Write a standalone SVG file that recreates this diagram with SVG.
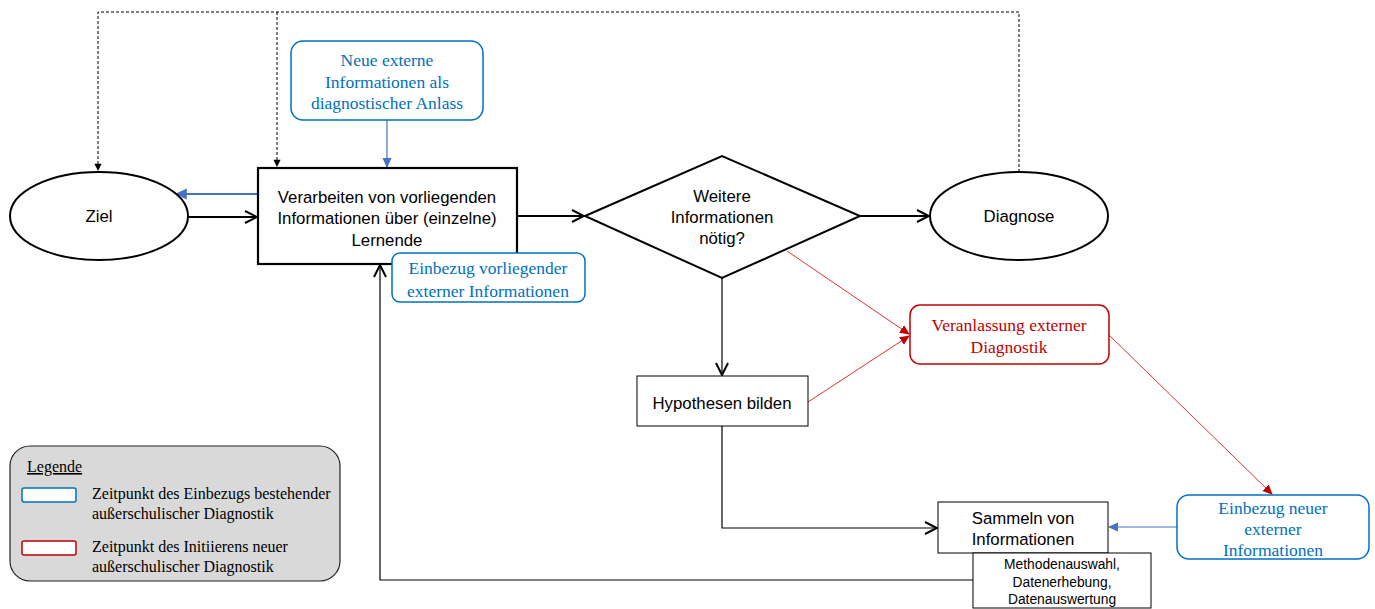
<svg xmlns="http://www.w3.org/2000/svg" width="1375" height="609" viewBox="0 0 1375 609">
<style>
.sans{font-family:"Liberation Sans",Arial,sans-serif;font-size:16.8px;fill:#000;text-anchor:middle}
.small{font-family:"Liberation Sans",Arial,sans-serif;font-size:13.8px;fill:#000;text-anchor:middle}
.serif{font-family:"Liberation Serif","Times New Roman",serif;font-size:17.5px;text-anchor:middle}
.leg{font-family:"Liberation Serif","Times New Roman",serif;font-size:16px;text-anchor:start;fill:#000}
.blue{fill:#0070C0}
.red{fill:#C00000}
.node{fill:#fff;stroke:#000}
.bbox{fill:#fff;stroke:#0070C0;stroke-width:1.5}
.rbox{fill:#fff;stroke:#C00000;stroke-width:1.5}
.blk{fill:none;stroke:#000;stroke-width:2}
.thin{fill:none;stroke:#000;stroke-width:1.2}
.dash{fill:none;stroke:#000;stroke-width:1;stroke-dasharray:3,2}
.bl{fill:none;stroke:#4472C4;stroke-width:1.2}
.rl{fill:none;stroke:#E03030;stroke-width:1}
</style>
<defs>
<marker id="openL" viewBox="0 0 14 14" refX="13" refY="7" markerWidth="14" markerHeight="14" markerUnits="userSpaceOnUse" orient="auto"><path d="M1,1 L13,7 L1,13" fill="none" stroke="#000" stroke-width="2"/></marker>
<marker id="dashA" viewBox="0 0 10 10" refX="9" refY="5" markerWidth="9" markerHeight="9" markerUnits="userSpaceOnUse" orient="auto"><path d="M1,1 L9,5 L1,9 Z" fill="#000"/></marker>
<marker id="blueA" viewBox="0 0 10 10" refX="9" refY="5" markerWidth="10" markerHeight="10" markerUnits="userSpaceOnUse" orient="auto"><path d="M0,0.5 L10,5 L0,9.5 Z" fill="#4472C4"/></marker>
<marker id="blueB" viewBox="0 0 10 10" refX="9" refY="5" markerWidth="12" markerHeight="12" markerUnits="userSpaceOnUse" orient="auto"><path d="M0,0.5 L10,5 L0,9.5 Z" fill="#4472C4"/></marker>
<marker id="redA" viewBox="0 0 10 10" refX="9" refY="5" markerWidth="10" markerHeight="10" markerUnits="userSpaceOnUse" orient="auto"><path d="M0,0.5 L10,5 L0,9.5 Z" fill="#C00000"/></marker>
</defs>
<rect width="1375" height="609" fill="#fff"/>
<g id="connectors">
<path class="dash" d="M1019,172 V12 H98 V171" marker-end="url(#dashA)"/>
<path class="dash" d="M277,12 V167" marker-end="url(#dashA)"/>
<path class="bl" d="M387,120 V167" marker-end="url(#blueA)"/>
<path class="bl" d="M258,194 H176" style="stroke-width:2.2" marker-end="url(#blueB)"/>
<path class="blk" d="M188,217 H257" marker-end="url(#openL)"/>
<path class="blk" d="M517,216 H584" marker-end="url(#openL)"/>
<path class="blk" d="M860,216 H929" marker-end="url(#openL)"/>
<path class="thin" d="M722,278 V375" marker-end="url(#openL)"/>
<path class="thin" d="M722,426 V528 H937" marker-end="url(#openL)"/>
<path class="thin" d="M973,580 H380 V265" marker-end="url(#openL)"/>
<path class="rl" d="M787,251 L909,334" marker-end="url(#redA)"/>
<path class="rl" d="M808,402 L909,336" marker-end="url(#redA)"/>
<path class="rl" d="M1109,335 L1272,494" marker-end="url(#redA)"/>
<path class="bl" d="M1177,527 H1109" marker-end="url(#blueA)"/>
</g>
<g id="ziel">
<ellipse class="node" cx="99" cy="216" rx="89" ry="44" stroke-width="2"/>
<text class="sans" x="99" y="222">Ziel</text>
</g>
<g id="verarbeiten">
<rect class="node" x="258" y="168" width="259" height="96" stroke-width="2.2"/>
<text class="sans" x="387" y="203">Verarbeiten von vorliegenden</text>
<text class="sans" x="387" y="224">Informationen über (einzelne)</text>
<text class="sans" x="387" y="246">Lernende</text>
</g>
<g id="neue-externe">
<rect class="bbox" x="291" y="41" width="192" height="79" rx="12"/>
<text class="serif blue" x="387" y="66">Neue externe</text>
<text class="serif blue" x="387" y="88">Informationen als</text>
<text class="serif blue" x="387" y="109">diagnostischer Anlass</text>
</g>
<g id="einbezug-vorliegender">
<rect class="bbox" x="392" y="253" width="193" height="49" rx="8"/>
<text class="serif blue" x="488" y="274">Einbezug vorliegender</text>
<text class="serif blue" x="488" y="297">externer Informationen</text>
</g>
<g id="weitere">
<path class="node" d="M585,216 L722,156 L860,216 L722,278 Z" stroke-width="2"/>
<text class="sans" x="722" y="202">Weitere</text>
<text class="sans" x="722" y="223">Informationen</text>
<text class="sans" x="722" y="244">nötig?</text>
</g>
<g id="diagnose">
<ellipse class="node" cx="1019" cy="216" rx="89" ry="44" stroke-width="2"/>
<text class="sans" x="1019" y="222">Diagnose</text>
</g>
<g id="hypothesen">
<rect class="node" x="637" y="376" width="171" height="50" stroke-width="1"/>
<text class="sans" x="722" y="409">Hypothesen bilden</text>
</g>
<g id="veranlassung">
<rect class="rbox" x="910" y="305" width="199" height="59" rx="10"/>
<text class="serif red" x="1009" y="331">Veranlassung externer</text>
<text class="serif red" x="1009" y="353">Diagnostik</text>
</g>
<g id="einbezug-neuer">
<rect class="bbox" x="1177" y="495" width="192" height="64" rx="12"/>
<text class="serif blue" x="1273" y="514">Einbezug neuer</text>
<text class="serif blue" x="1273" y="535">externer</text>
<text class="serif blue" x="1273" y="556">Informationen</text>
</g>
<g id="sammeln">
<rect class="node" x="938" y="502" width="170" height="51" stroke-width="1"/>
<text class="sans" x="1023" y="524">Sammeln von</text>
<text class="sans" x="1023" y="545">Informationen</text>
</g>
<g id="methoden">
<rect class="node" x="973" y="553" width="178" height="55" stroke-width="1"/>
<text class="small" x="1062" y="569">Methodenauswahl,</text>
<text class="small" x="1062" y="587">Datenerhebung,</text>
<text class="small" x="1062" y="604">Datenauswertung</text>
</g>
<g id="legende">
<rect x="10" y="446" width="330" height="135" rx="20" fill="#D9D9D9" stroke="#222" stroke-width="1.2"/>
<text class="leg" x="27" y="472" text-decoration="underline">Legende</text>
<rect x="22" y="488" width="54" height="14" rx="2" fill="#fff" stroke="#0070C0" stroke-width="1.5"/>
<text class="leg" x="92" y="499">Zeitpunkt des Einbezugs bestehender</text>
<text class="leg" x="92" y="519">außerschulischer Diagnostik</text>
<rect x="22" y="541" width="54" height="14" rx="2" fill="#fff" stroke="#C00000" stroke-width="1.5"/>
<text class="leg" x="92" y="552">Zeitpunkt des Initiierens neuer</text>
<text class="leg" x="92" y="572">außerschulischer Diagnostik</text>
</g>
</svg>
